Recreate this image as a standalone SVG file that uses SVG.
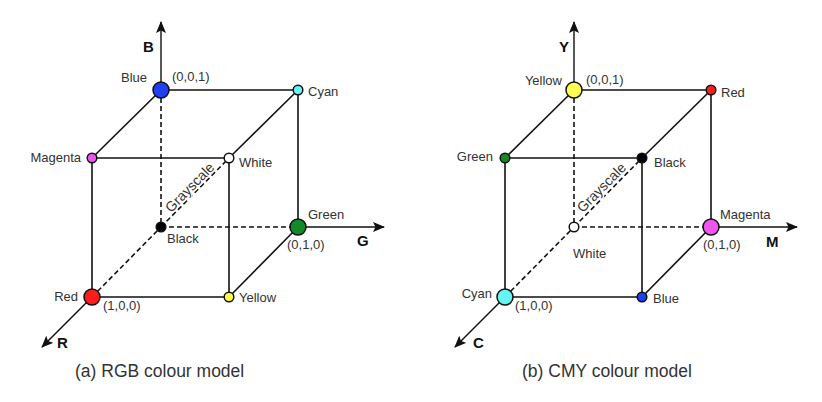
<svg xmlns="http://www.w3.org/2000/svg" width="822" height="402" viewBox="0 0 822 402">
  <defs>
    <marker id="arrow" viewBox="0 0 12 10" refX="11" refY="5" markerWidth="12" markerHeight="10" markerUnits="userSpaceOnUse" orient="auto">
      <path d="M0,0 L12,5 L0,10 L2.5,5 z" fill="#111"/>
    </marker>
  </defs>
  <style>
    .edge { stroke: #111; stroke-width: 1.6; fill: none; }
    .dash { stroke: #111; stroke-width: 1.6; fill: none; stroke-dasharray: 5 3; }
    .axis { stroke: #111; stroke-width: 1.4; fill: none; marker-end: url(#arrow); }
    .pt { stroke: #111; stroke-width: 1.5; }
    .lbl { font-family: "Liberation Sans", Arial, sans-serif; font-size: 13px; fill: #333; }
    .ax { font-family: "Liberation Sans", Arial, sans-serif; font-size: 15px; font-weight: bold; fill: #111; }
    .cap { font-family: "Liberation Sans", Arial, sans-serif; font-size: 17.5px; fill: #333; }
    .gray { font-family: "Liberation Sans", Arial, sans-serif; font-size: 14px; fill: #333; stroke: #fff; stroke-width: 3; paint-order: stroke; stroke-linejoin: round; }
  </style>
  <rect width="822" height="402" fill="#fff"/>

  <!-- RGB cube: edges and axes -->
  <g id="rgb-connectors">
    <line class="axis" x1="161" y1="90" x2="161" y2="22"/>
    <line class="axis" x1="298" y1="227" x2="384" y2="227"/>
    <line class="axis" x1="92" y1="297" x2="42" y2="347"/>
    <line class="dash" x1="161" y1="90" x2="161" y2="227"/>
    <line class="dash" x1="161" y1="227" x2="298" y2="227"/>
    <line class="dash" x1="92" y1="297" x2="161" y2="227"/>
    <line class="dash" x1="161" y1="227" x2="229" y2="158"/>
    <line class="edge" x1="161" y1="90" x2="298" y2="90"/>
    <line class="edge" x1="161" y1="90" x2="92" y2="158"/>
    <line class="edge" x1="298" y1="90" x2="229" y2="158"/>
    <line class="edge" x1="298" y1="90" x2="298" y2="227"/>
    <line class="edge" x1="92" y1="158" x2="229" y2="158"/>
    <line class="edge" x1="92" y1="158" x2="92" y2="297"/>
    <line class="edge" x1="229" y1="158" x2="229" y2="297"/>
    <line class="edge" x1="92" y1="297" x2="229" y2="297"/>
    <line class="edge" x1="229" y1="297" x2="298" y2="227"/>
    <text class="gray" transform="translate(195,192.5) rotate(-45.4)" x="0" y="-2.5" text-anchor="middle">Grayscale</text>
  </g>
  <text class="ax" x="143" y="52">B</text>
  <text class="ax" x="357" y="246">G</text>
  <text class="ax" x="57" y="348">R</text>

  <g id="rgb-blue">
    <circle class="pt" cx="161" cy="90" r="8" fill="#1f40f2"/>
    <text class="lbl" x="147" y="81.5" text-anchor="end">Blue</text>
    <text class="lbl" x="172" y="81">(0,0,1)</text>
  </g>
  <g id="rgb-cyan">
    <circle class="pt" cx="298" cy="90" r="4.8" fill="#66f5f5"/>
    <text class="lbl" x="308" y="96">Cyan</text>
  </g>
  <g id="rgb-magenta">
    <circle class="pt" cx="92" cy="158" r="4.8" fill="#ee55ee"/>
    <text class="lbl" x="81" y="161.5" text-anchor="end">Magenta</text>
  </g>
  <g id="rgb-white">
    <circle class="pt" cx="229" cy="158" r="4.8" fill="#fff"/>
    <text class="lbl" x="239" y="167">White</text>
  </g>
  <g id="rgb-black">
    <circle class="pt" cx="161" cy="227" r="4.8" fill="#000"/>
    <text class="lbl" x="167" y="243">Black</text>
  </g>
  <g id="rgb-green">
    <circle class="pt" cx="298" cy="227" r="8" fill="#128a2a"/>
    <text class="lbl" x="308" y="219">Green</text>
    <text class="lbl" x="287" y="249">(0,1,0)</text>
  </g>
  <g id="rgb-red">
    <circle class="pt" cx="92" cy="297" r="8" fill="#ff1c1c"/>
    <text class="lbl" x="78" y="301" text-anchor="end">Red</text>
    <text class="lbl" x="103" y="310">(1,0,0)</text>
  </g>
  <g id="rgb-yellow">
    <circle class="pt" cx="229" cy="297" r="4.8" fill="#ffff40"/>
    <text class="lbl" x="239" y="301.5">Yellow</text>
  </g>
  <text class="cap" x="75" y="377">(a) RGB colour model</text>

  <!-- CMY cube: edges and axes -->
  <g id="cmy-connectors">
    <line class="axis" x1="574" y1="90" x2="574" y2="22"/>
    <line class="axis" x1="711" y1="227" x2="797" y2="227"/>
    <line class="axis" x1="505" y1="297" x2="455" y2="347"/>
    <line class="dash" x1="574" y1="90" x2="574" y2="227"/>
    <line class="dash" x1="574" y1="227" x2="711" y2="227"/>
    <line class="dash" x1="505" y1="297" x2="574" y2="227"/>
    <line class="dash" x1="574" y1="227" x2="642" y2="158"/>
    <line class="edge" x1="574" y1="90" x2="711" y2="90"/>
    <line class="edge" x1="574" y1="90" x2="505" y2="158"/>
    <line class="edge" x1="711" y1="90" x2="642" y2="158"/>
    <line class="edge" x1="711" y1="90" x2="711" y2="227"/>
    <line class="edge" x1="505" y1="158" x2="642" y2="158"/>
    <line class="edge" x1="505" y1="158" x2="505" y2="297"/>
    <line class="edge" x1="642" y1="158" x2="642" y2="297"/>
    <line class="edge" x1="505" y1="297" x2="642" y2="297"/>
    <line class="edge" x1="642" y1="297" x2="711" y2="227"/>
    <text class="gray" transform="translate(607,193) rotate(-45.4)" x="0" y="-3" text-anchor="middle">Grayscale</text>
  </g>
  <text class="ax" x="559" y="52">Y</text>
  <text class="ax" x="766" y="247">M</text>
  <text class="ax" x="473" y="348">C</text>

  <g id="cmy-yellow">
    <circle class="pt" cx="574" cy="90" r="8" fill="#ffff50"/>
    <text class="lbl" x="562" y="85" text-anchor="end">Yellow</text>
    <text class="lbl" x="586" y="84">(0,0,1)</text>
  </g>
  <g id="cmy-red">
    <circle class="pt" cx="711" cy="90" r="4.8" fill="#ff1c1c"/>
    <text class="lbl" x="721" y="97">Red</text>
  </g>
  <g id="cmy-green">
    <circle class="pt" cx="505" cy="158" r="4.8" fill="#128a2a"/>
    <text class="lbl" x="493" y="161" text-anchor="end">Green</text>
  </g>
  <g id="cmy-black">
    <circle class="pt" cx="642" cy="158" r="4.8" fill="#000"/>
    <text class="lbl" x="654" y="167">Black</text>
  </g>
  <g id="cmy-white">
    <circle class="pt" cx="574" cy="227" r="4.8" fill="#fff"/>
    <text class="lbl" x="573" y="258">White</text>
  </g>
  <g id="cmy-magenta">
    <circle class="pt" cx="711" cy="227" r="8" fill="#f055f0"/>
    <text class="lbl" x="720" y="219">Magenta</text>
    <text class="lbl" x="703" y="249">(0,1,0)</text>
  </g>
  <g id="cmy-cyan">
    <circle class="pt" cx="505" cy="297" r="8" fill="#66f5f5"/>
    <text class="lbl" x="492" y="297.5" text-anchor="end">Cyan</text>
    <text class="lbl" x="515" y="310">(1,0,0)</text>
  </g>
  <g id="cmy-blue">
    <circle class="pt" cx="642" cy="297" r="4.8" fill="#1f40f2"/>
    <text class="lbl" x="653" y="302.5">Blue</text>
  </g>
  <text class="cap" x="522" y="377">(b) CMY colour model</text>
</svg>
